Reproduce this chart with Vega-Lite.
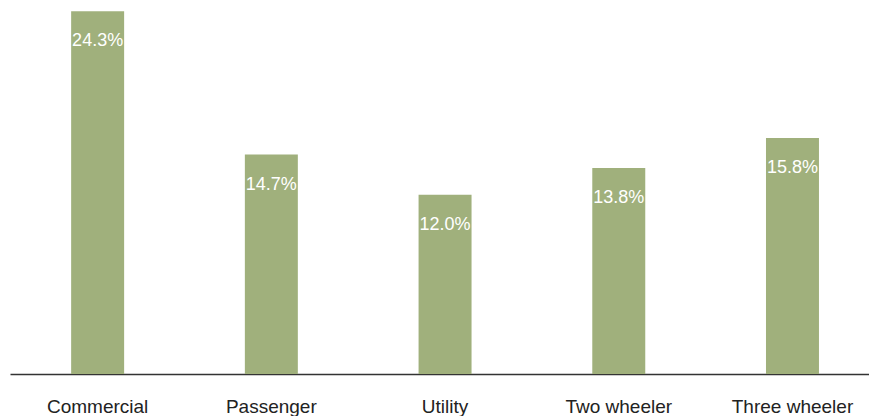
{
  "$schema": "https://vega.github.io/schema/vega-lite/v6.json",
  "autosize": "none",
  "width": 859,
  "height": 374,
  "padding": {"left": 10, "top": 0, "right": 0, "bottom": 42},
  "background": "white",
  "config": {"view": {"stroke": null}},
  "data": {"values": [
    {"category": "Commercial", "value": 0.243},
    {"category": "Passenger", "value": 0.147},
    {"category": "Utility", "value": 0.120},
    {"category": "Two wheeler", "value": 0.138},
    {"category": "Three wheeler", "value": 0.158}
  ]},
  "encoding": {
    "x": {"field": "category", "type": "nominal", "sort": null,
      "scale": {"paddingInner": 0.695, "paddingOuter": 0.32, "align": 0.55},
      "axis": {"title": null, "labelAngle": 0, "ticks": false, "tickSize": 0, "labelPadding": 38, "labelBaseline": "alphabetic",
        "labelFont": "Liberation Sans", "labelFontSize": 19, "labelColor": "#222222",
        "domainColor": "#333333", "domainWidth": 1.5, "grid": false}},
    "y": {"field": "value", "type": "quantitative", "scale": {"domain": [0, 0.2505], "nice": false}, "axis": null}
  },
  "layer": [
    {"mark": {"type": "bar", "color": "#a0b07c"}},
    {"mark": {"type": "text", "color": "white", "font": "Liberation Sans", "fontSize": 18, "baseline": "alphabetic", "dy": 35},
     "encoding": {"text": {"field": "value", "type": "quantitative", "format": ".1%"}}}
  ]
}
